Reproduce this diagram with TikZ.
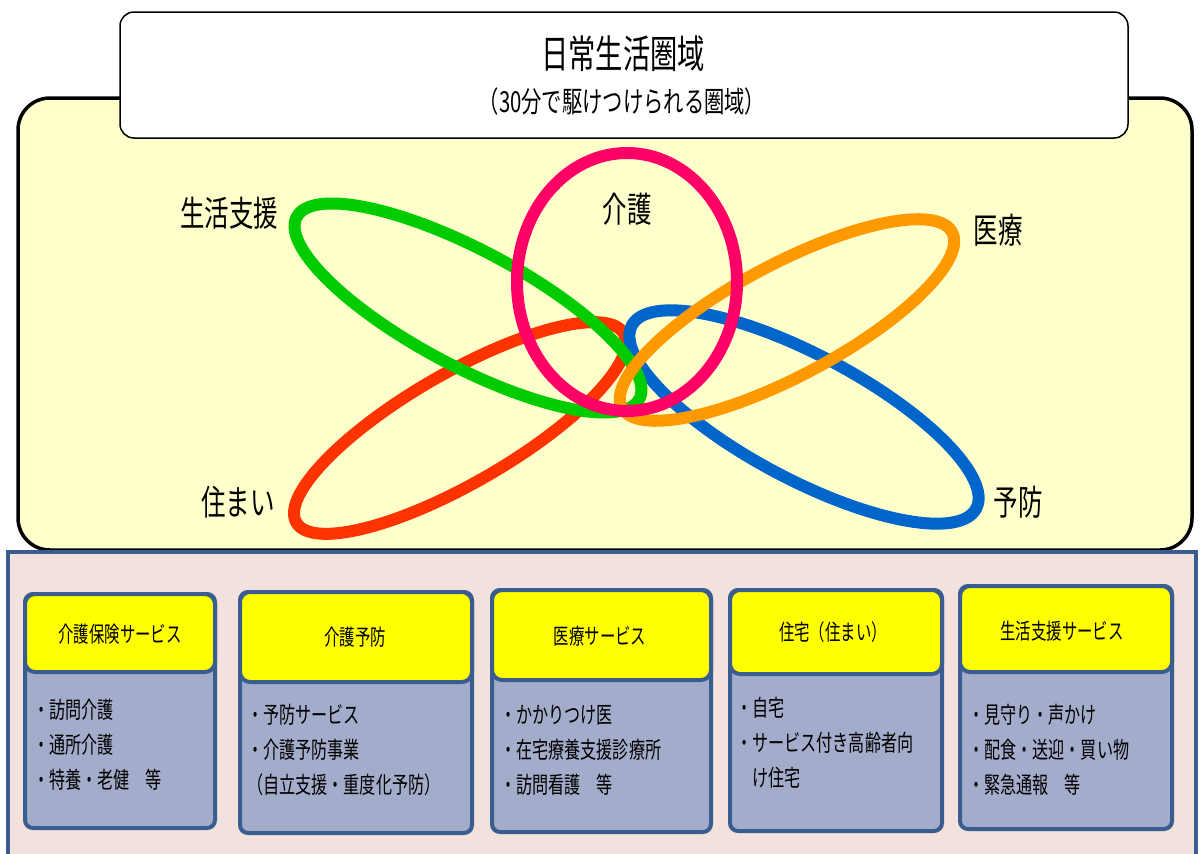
\documentclass[tikz,border=0pt]{standalone}
\usepackage{fontspec}
\setmainfont{Noto Sans CJK JP}[FakeStretch=0.7]
\usetikzlibrary{positioning}
\definecolor{cream}{HTML}{FFFFCC}
\definecolor{pinkpanel}{HTML}{F2E1DD}
\definecolor{navyline}{HTML}{3A5D8F}
\definecolor{bodyblue}{HTML}{A3ADCB}
\definecolor{hdyellow}{HTML}{FFFF00}
\definecolor{ringred}{HTML}{FF3300}
\definecolor{ringgreen}{HTML}{00CC00}
\definecolor{ringpink}{HTML}{FF0066}
\definecolor{ringorange}{HTML}{FF9900}
\definecolor{ringblue}{HTML}{0066CC}
\tikzset{
    ring/.style={draw=#1, line width=12pt},
    svcbox/.style={draw=navyline, line width=4pt, fill=bodyblue, rounded corners=8pt},
    svchead/.style={draw=navyline, line width=4pt, fill=hdyellow, rounded corners=10pt},
    headtext/.style={font=\fontsize{22}{26}\selectfont, inner sep=0pt},
    itemtext/.style={font=\fontsize{23}{35}\selectfont, align=left, anchor=west, inner sep=0pt},
    ringlabel/.style={font=\fontsize{35}{40}\selectfont, inner sep=0pt},
}

\begin{document}
\begin{tikzpicture}[x=1pt, y=-1pt]
    \useasboundingbox (0,0) rectangle (1200,854);
    % daily life area
    \draw[fill=cream, line width=3.5pt, rounded corners=32pt] (18,98) rectangle (1192,550);
    \draw[fill=white, line width=1.5pt, rounded corners=14pt] (120,12) rectangle (1128,138);
    \node[font=\fontsize{39}{44}\selectfont, inner sep=0pt] (title) at (623,54) {日常生活圏域};
    \node[font=\fontsize{29}{34}\selectfont, inner sep=0pt] (subtitle) at (622,101) {（30分で駆けつけられる圏域）};
    % rings
    \draw[ring=ringred] (460,428) ellipse [x radius=189, y radius=55, rotate=30];
    \draw[ring=ringblue] (804,417) ellipse [x radius=195, y radius=62, rotate=-28];
    \draw[ring=ringgreen] (468,308) ellipse [x radius=194, y radius=58, rotate=-28];
    \draw[ring=ringorange] (787,320) ellipse [x radius=187, y radius=56, rotate=28];
    \draw[ring=ringpink] (627,282) ellipse [x radius=110, y radius=129];
    \node[ringlabel] (lifesupport) at (229,213) {生活支援};
    \node[ringlabel] (care) at (627,209) {介護};
    \node[ringlabel] (medical) at (998,230) {医療};
    \node[ringlabel] (housing) at (238,502) {住まい};
    \node[ringlabel] (prevention) at (1018,502) {予防};
    % services
    \draw[fill=pinkpanel, draw=navyline, line width=4pt] (8,552) rectangle (1196,880);
    \draw[svcbox] (25,594) rectangle (215,828);
    \draw[svchead] (25,594) rectangle (215,672);
    \node[headtext] (carehead) at (120,634) {介護保険サービス};
    \node[itemtext] (careitems) at (33,745) {・訪問介護\\・通所介護\\・特養・老健　等};
    \draw[svcbox] (240,592) rectangle (472,833);
    \draw[svchead] (240,592) rectangle (472,682);
    \node[headtext] (prevhead) at (355,637) {介護予防};
    \node[itemtext] (previtems) at (247,750) {・予防サービス\\・介護予防事業\\（自立支援・重度化予防）};
    \draw[svcbox] (492,590) rectangle (711,832);
    \draw[svchead] (492,590) rectangle (711,680);
    \node[headtext] (medhead) at (600,636) {医療サービス};
    \node[itemtext] (meditems) at (500,750) {・かかりつけ医\\・在宅療養支援診療所\\・訪問看護　等};
    \draw[svcbox] (730,590) rectangle (942,831);
    \draw[svchead] (730,590) rectangle (942,674);
    \node[headtext] (househead) at (833,632) {住宅（住まい）};
    \node[itemtext] (houseitems) at (736,743) {・自宅\\・サービス付き高齢者向\\\hphantom{・}け住宅};
    \draw[svcbox] (960,586) rectangle (1172,829);
    \draw[svchead] (960,586) rectangle (1172,672);
    \node[headtext] (lifehead) at (1062,631) {生活支援サービス};
    \node[itemtext] (lifeitems) at (968,750) {・見守り・声かけ\\・配食・送迎・買い物\\・緊急通報　等};
\end{tikzpicture}
\end{document}
